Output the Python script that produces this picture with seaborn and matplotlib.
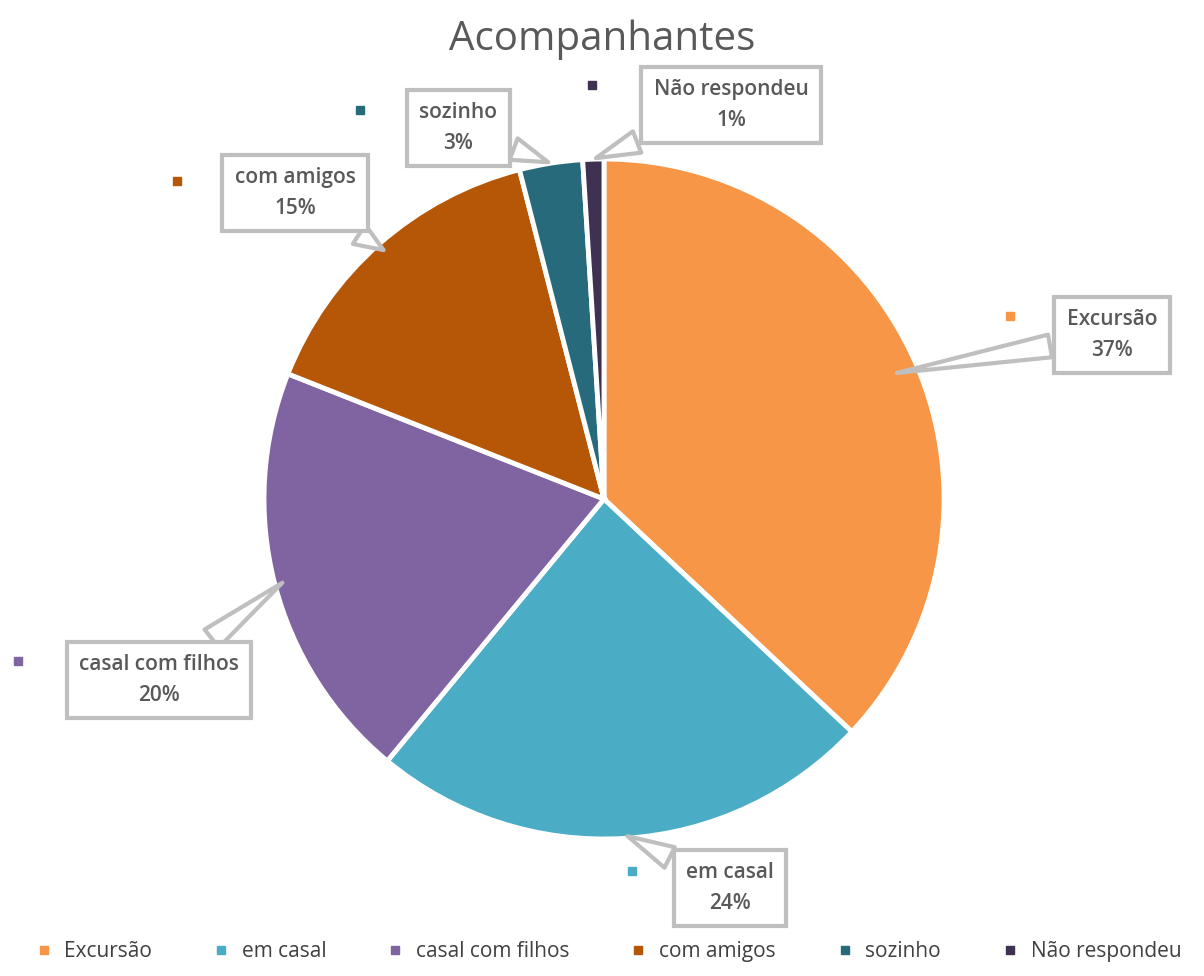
import numpy as np
import seaborn as sns
import matplotlib.pyplot as plt
from matplotlib.lines import Line2D

categories = ["Excursão", "em casal", "casal com filhos", "com amigos", "sozinho", "Não respondeu"]
values = [37, 24, 20, 15, 3, 1]
colors = ["#F79646", "#4BACC6", "#8064A2", "#B65708", "#276A7C", "#3F3151"]

# label box centers (pixel coords, y from top) and marker spots
box_pos = [(1112, 335), (730, 888), (159, 680), (295, 193), (458, 128), (731, 105)]
tip_r = [0.93, 0.99, 0.97, 0.97, 1.0, 1.0]

sns.set_theme(style="white")
plt.rcParams["font.family"] = ["Open Sans", "DejaVu Sans"]
palette = sns.color_palette(colors)

W, H = 1204, 976
fig = plt.figure(figsize=(W / 100, H / 100), dpi=100)
ax = fig.add_axes([0, 0, 1, 1])

cx, cy, R = 604, H - 499, 340
wedges, _ = ax.pie(values, colors=palette, startangle=90, counterclock=False,
                   center=(cx, cy), radius=R, frame=True,
                   wedgeprops=dict(edgecolor="white", linewidth=3.5))
ax.set_xlim(0, W)
ax.set_ylim(0, H)
ax.set_aspect("equal")
ax.axis("off")

ax.text(W / 2, H - 40, "Acompanhantes", ha="center", va="center",
        fontsize=29, color="#595959")

for w, cat, v, (bx, by), r in zip(wedges, categories, values, box_pos, tip_r):
    ang = np.deg2rad((w.theta1 + w.theta2) / 2)
    tip = (cx + R * r * np.cos(ang), cy + R * r * np.sin(ang))
    ax.annotate(f"{cat}\n{v}%", xy=tip, xytext=(bx, H - by),
                ha="center", va="center", fontsize=15, fontweight="semibold",
                color="#595959", linespacing=1.6,
                bbox=dict(boxstyle="square,pad=0.6", fc="white", ec="#BFBFBF", lw=3),
                arrowprops=dict(arrowstyle="wedge,tail_width=1.1,shrink_factor=0.5",
                                fc="white", ec="#BFBFBF", lw=3))

# small colored keys beside each label
key_pos = [(1010, 316), (632, 871), (18, 661), (177, 181), (360, 110), (592, 85)]
for (kx, ky), col in zip(key_pos, palette):
    ax.plot(kx, H - ky, marker="s", ms=6, color=col, ls="none")

handles = [Line2D([], [], marker="s", ms=6, color=c, ls="none") for c in palette]
fig.legend(handles, categories, loc="lower center", ncol=6, frameon=False,
           fontsize=15, handletextpad=0.0, columnspacing=2.3,
           bbox_to_anchor=(0.5, -0.005), labelcolor="#404040")

fig.savefig("out.png", dpi=100)
